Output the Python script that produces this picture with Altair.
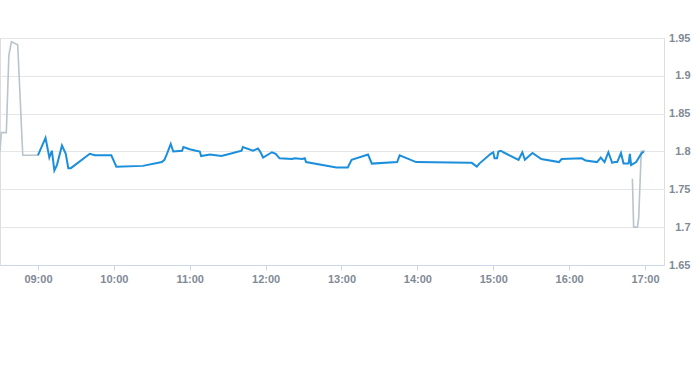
import altair as alt
import pandas as pd

DAY = "2024-01-02 "

pre_times = ["08:30", "08:31", "08:35", "08:37", "08:39", "08:44", "08:48", "09:00"]
pre_values = [1.800, 1.825, 1.825, 1.927, 1.945, 1.941, 1.795, 1.795]

reg_times = ["09:00", "09:06", "09:09", "09:11", "09:13", "09:15", "09:19", "09:22", "09:24", "09:26",
             "09:41", "09:45", "09:58", "10:02", "10:23", "10:38", "10:40", "10:42", "10:45", "10:47",
             "10:54", "10:55", "11:00", "11:05", "11:08", "11:09", "11:16", "11:25", "11:32", "11:41",
             "11:42", "11:50", "11:54", "11:56", "11:58", "12:05", "12:08", "12:11", "12:21", "12:23",
             "12:29", "12:31", "12:32", "12:56", "13:05", "13:08", "13:21", "13:24", "13:44", "13:46",
             "13:59", "14:41", "14:43", "14:47", "14:49", "14:58", "15:00", "15:01", "15:03", "15:04",
             "15:06", "15:08", "15:20", "15:23", "15:25", "15:31", "15:38", "15:52", "15:54", "16:10",
             "16:13", "16:22", "16:25", "16:28", "16:31", "16:34", "16:36", "16:38", "16:41", "16:43",
             "16:47", "16:48", "16:49", "16:53", "16:57", "16:59"]
reg_values = [1.795, 1.818, 1.792, 1.801, 1.775, 1.782, 1.808, 1.797, 1.778, 1.778,
              1.797, 1.795, 1.795, 1.780, 1.781, 1.786, 1.789, 1.797, 1.810, 1.800,
              1.801, 1.806, 1.803, 1.801, 1.800, 1.794, 1.796, 1.794, 1.797, 1.801,
              1.806, 1.801, 1.804, 1.799, 1.792, 1.799, 1.797, 1.791, 1.790, 1.791,
              1.790, 1.791, 1.786, 1.779, 1.779, 1.789, 1.796, 1.784, 1.786, 1.795,
              1.786, 1.785, 1.785, 1.780, 1.784, 1.797, 1.799, 1.791, 1.791, 1.800,
              1.801, 1.799, 1.789, 1.799, 1.789, 1.798, 1.790, 1.786, 1.790, 1.791,
              1.788, 1.786, 1.792, 1.786, 1.799, 1.785, 1.786, 1.786, 1.798, 1.784,
              1.784, 1.797, 1.782, 1.786, 1.797, 1.800]

post_times = ["16:50", "16:51", "16:54", "16:55", "16:57", "17:00"]
post_values = [1.764, 1.700, 1.700, 1.712, 1.800, 1.801]

y_ticks = [1.65, 1.7, 1.75, 1.8, 1.85, 1.9, 1.95]
x_tick_hours = ["09:00", "10:00", "11:00", "12:00", "13:00", "14:00", "15:00", "16:00", "17:00"]

rows = []
for seg, times, vals in [("pre", pre_times, pre_values), ("reg", reg_times, reg_values),
                         ("post", post_times, post_values)]:
    for t, v in zip(times, vals):
        rows.append({"t": DAY + t, "v": v, "seg": seg,
                     "kind": "regular" if seg == "reg" else "extended"})
df = pd.DataFrame(rows)

x_domain = [alt.DateTime(year=2024, month=1, date=2, hours=8, minutes=30),
            alt.DateTime(year=2024, month=1, date=2, hours=17, minutes=15)]
x_values = [alt.DateTime(year=2024, month=1, date=2, hours=int(h[:2]), minutes=0) for h in x_tick_hours]

label_color = "#7f8a96"
font = "Liberation Sans"

x_enc = alt.X("t:T", scale=alt.Scale(domain=x_domain),
              axis=alt.Axis(values=x_values, format="%H:%M", title=None, grid=False,
                            domainColor="#ccd6eb", tickColor="#ccd6eb", tickSize=5,
                            labelColor=label_color, labelFont=font, labelFontSize=11,
                            labelFontWeight="bold", labelPadding=3, labelFlush=False))
y_enc = alt.Y("v:Q", scale=alt.Scale(domain=[1.65, 1.95], nice=False, zero=False),
              axis=alt.Axis(values=y_ticks, format="~g", orient="right", title=None,
                            grid=True, gridColor="#e6e6e6", domain=False, ticks=False,
                            labelAlign="right", labelPadding=26, labelColor=label_color,
                            labelFont=font, labelFontSize=11, labelFontWeight="bold"))

base = alt.Chart(df)
reg_line = base.transform_filter(alt.datum.seg == "reg").mark_line(
    color="#1b8fdc", strokeWidth=2, interpolate="linear").encode(x=x_enc, y=y_enc)
ext_line = base.transform_filter(alt.datum.seg != "reg").mark_line(
    color="#b9c4cc", strokeWidth=1.6).encode(x=x_enc, y=y_enc, detail="seg:N")

chart = alt.layer(ext_line, reg_line).properties(
    width=664, height=227,
    autosize=alt.AutoSizeParams(type="none"),
    padding={"left": 0, "top": 38, "right": 29, "bottom": 100},
).configure_view(stroke=None).configure(background="white")

chart.save("out.html", embed_options={"renderer": "svg", "actions": False})
